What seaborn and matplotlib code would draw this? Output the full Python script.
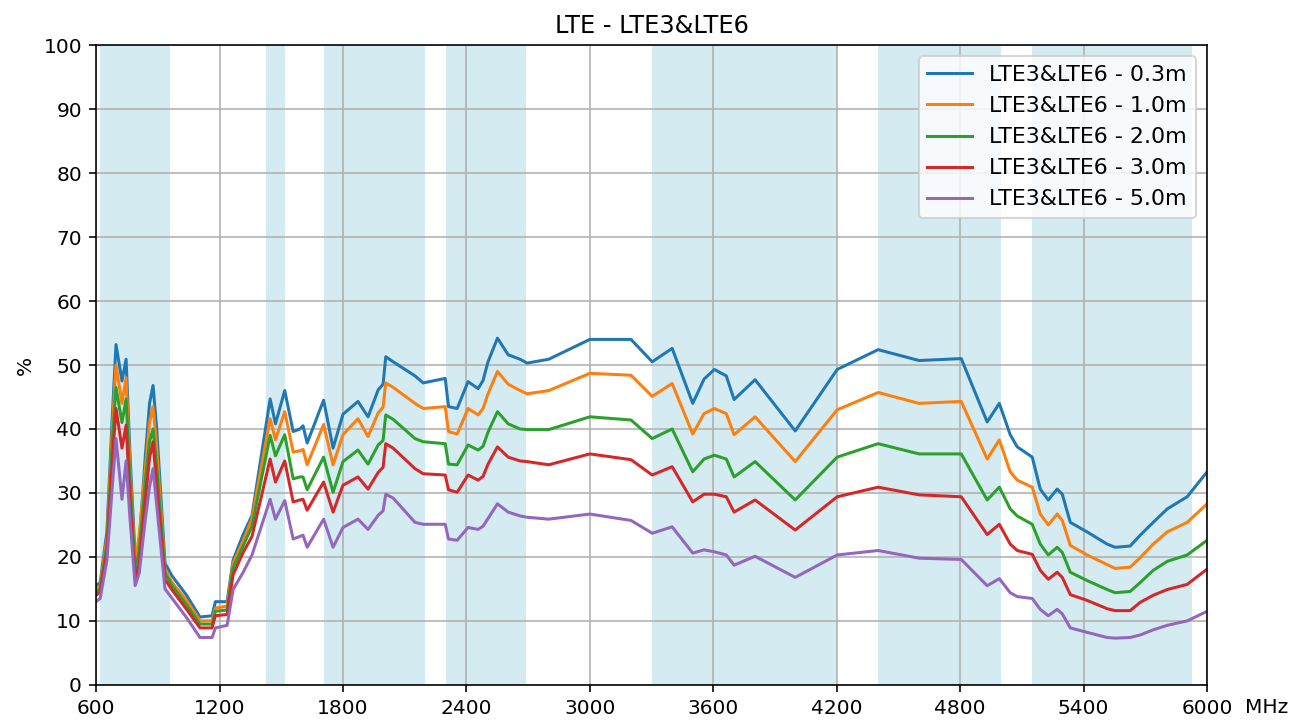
import numpy as np
import pandas as pd
import matplotlib
matplotlib.use("Agg")
import matplotlib.pyplot as plt
import seaborn as sns

# frequency points (MHz)
freq = [600, 620, 653, 679, 697, 726, 746, 765, 790, 810, 840, 860, 877, 895, 935, 970,
        1040, 1105, 1164, 1180, 1237, 1266, 1315, 1358, 1446, 1472, 1517, 1558, 1591, 1606,
        1626, 1706, 1752, 1800, 1873, 1922, 1971, 1995, 2008, 2044, 2150, 2190, 2297, 2313,
        2355, 2408, 2457, 2481, 2505, 2551, 2603, 2661, 2695, 2800, 3000, 3200, 3303, 3400,
        3500, 3555, 3605, 3663, 3701, 3803, 3998, 4202, 4401, 4600, 4805, 4931, 4990, 5043,
        5077, 5150, 5189, 5228, 5271, 5296, 5335, 5417, 5514, 5553, 5626, 5675, 5738, 5806,
        5903, 6000]

lte_03 = [15.5, 16, 24, 42, 53.2, 47.5, 50.9, 36, 20, 22, 36, 44, 46.8, 40, 19, 17,
          14, 10.6, 10.8, 13, 13, 19.5, 23.5, 26.5, 44.7, 40.8, 46, 39.6, 40, 40.5,
          37.8, 44.5, 37, 42.3, 44.3, 41.9, 46.1, 47, 51.3, 50.5, 48.3, 47.2, 47.9, 43.5,
          43.2, 47.4, 46.3, 47.6, 50.5, 54.2, 51.6, 50.9, 50.3, 50.9, 54, 54, 50.5, 52.6,
          44, 47.8, 49.3, 48.3, 44.6, 47.7, 39.7, 49.3, 52.4, 50.7, 51, 41.1, 44, 39.1,
          37.2, 35.6, 30.6, 28.9, 30.6, 29.8, 25.4, 23.9, 22, 21.5, 21.7, 23.4, 25.4, 27.5,
          29.4, 33.3]

lte_10 = [15, 15.5, 23, 40, 50, 44, 48, 34, 19, 23.5, 34, 41, 43.5, 37, 18, 16,
          13.2, 10, 10, 12, 12.3, 19, 22.5, 26, 41.6, 38.3, 42.7, 36.4, 36.6, 36.8,
          34.4, 40.7, 34.4, 39.1, 41.6, 38.8, 42.5, 43.4, 47.2, 46.5, 44, 43.2, 43.5, 39.6,
          39.2, 43.2, 42.2, 43.2, 45.5, 49, 47, 46, 45.5, 46, 48.7, 48.4, 45.1, 47.1,
          39.2, 42.4, 43.2, 42.4, 39.1, 41.9, 34.9, 43, 45.7, 44, 44.3, 35.3, 38.3, 33.3,
          32, 30.9, 26.7, 25, 26.7, 25.7, 21.8, 20.3, 18.8, 18.2, 18.4, 19.9, 22, 23.9,
          25.4, 28.3]

lte_20 = [14.5, 15, 22, 38, 46.5, 41, 44.7, 32, 18, 21, 32, 38, 40, 34, 17.5, 15.5,
          12.5, 9.5, 9.5, 11.5, 11.7, 18.3, 21.7, 24.8, 39, 35.8, 39.1, 32.2, 32.5, 32.5,
          30.5, 35.6, 30.1, 34.9, 36.7, 34.5, 37.5, 38.2, 42.2, 41.5, 38.5, 38, 37.7, 34.5,
          34.4, 37.5, 36.7, 37.3, 39.5, 42.7, 40.8, 40, 39.9, 39.9, 41.9, 41.4, 38.5, 40,
          33.3, 35.3, 35.9, 35.3, 32.5, 34.9, 28.9, 35.6, 37.7, 36.1, 36.1, 28.9, 30.9, 27.5,
          26.4, 25.1, 22, 20.3, 21.5, 20.7, 17.6, 16.3, 14.9, 14.4, 14.6, 16, 17.9, 19.3,
          20.3, 22.6]

lte_30 = [14, 14.5, 21, 35, 43.2, 37, 40.6, 29, 16.5, 19, 29, 35.5, 38, 31, 16.5, 14.8,
          11.8, 8.9, 8.9, 10.8, 11, 17.2, 20.7, 23.2, 35.3, 31.7, 35, 28.6, 28.9, 29,
          27.3, 31.7, 27, 31.2, 32.5, 30.6, 33.2, 34, 37.7, 37, 33.8, 33, 32.8, 30.5,
          30.1, 32.8, 32, 32.6, 34.5, 37.2, 35.6, 35, 34.9, 34.4, 36.1, 35.2, 32.8, 34.1,
          28.6, 29.8, 29.8, 29.4, 27, 28.9, 24.2, 29.4, 30.9, 29.7, 29.4, 23.5, 25.1, 22,
          21, 20.4, 17.9, 16.5, 17.6, 16.8, 14.1, 13.2, 11.9, 11.6, 11.6, 12.9, 14, 14.9,
          15.7, 18.1]

lte_50 = [13, 13.5, 19.5, 31, 38.5, 29, 35, 26, 15.5, 17.5, 26, 31, 33.8, 28, 15, 13.5,
          10.5, 7.4, 7.4, 8.9, 9.3, 14.9, 17.6, 20.3, 29, 25.9, 28.8, 22.8, 23.2, 23.4,
          21.5, 25.9, 21.5, 24.6, 25.9, 24.3, 26.5, 27.2, 29.8, 29.2, 25.4, 25.1, 25.1, 22.8,
          22.6, 24.6, 24.3, 24.8, 26, 28.3, 27, 26.4, 26.2, 25.9, 26.7, 25.7, 23.7, 24.7,
          20.6, 21.1, 20.8, 20.3, 18.7, 20.1, 16.8, 20.3, 21, 19.8, 19.6, 15.5, 16.6, 14.4,
          13.8, 13.5, 11.8, 10.8, 11.8, 11.1, 8.9, 8.2, 7.4, 7.3, 7.4, 7.8, 8.6, 9.3,
          10, 11.5]

series_names = ["LTE3&LTE6 - 0.3m", "LTE3&LTE6 - 1.0m", "LTE3&LTE6 - 2.0m",
                "LTE3&LTE6 - 3.0m", "LTE3&LTE6 - 5.0m"]

# LTE bands shaded in the background (MHz)
band_start = [617, 1427, 1710, 2300, 3300, 4400, 5150]
band_end = [960, 1518, 2200, 2690, 4200, 5000, 5925]

xticks = list(range(600, 6001, 600))
yticks = list(range(0, 101, 10))

frames = []
for name, vals in zip(series_names, [lte_03, lte_10, lte_20, lte_30, lte_50]):
    frames.append(pd.DataFrame({"freq": freq, "pct": vals, "series": name}))
df = pd.concat(frames, ignore_index=True)

fig, ax = plt.subplots(figsize=(9, 5), dpi=145)
fig.subplots_adjust(left=0.0736, right=0.925, bottom=0.0554, top=0.9377)

for s, e in zip(band_start, band_end):
    ax.axvspan(s, e, color="lightblue", alpha=0.5, lw=0)

palette = sns.color_palette("tab10", 5)
sns.lineplot(data=df, x="freq", y="pct", hue="series", palette=palette,
             linewidth=1.5, ax=ax, sort=False, estimator=None)

ax.set_xlim(600, 6000)
ax.set_ylim(0, 100)
ax.set_xticks(xticks)
ax.set_yticks(yticks)
ax.grid(True)
ax.set_title("LTE - LTE3&LTE6")
ax.set_ylabel("%")
ax.set_xlabel("")
ax.text(1.054, -0.036, "MHz", transform=ax.transAxes, ha="center", va="center",
        fontsize=10)

sns.move_legend(ax, "upper right", title=None, fontsize=11)

fig.savefig("out.png", dpi=145)
